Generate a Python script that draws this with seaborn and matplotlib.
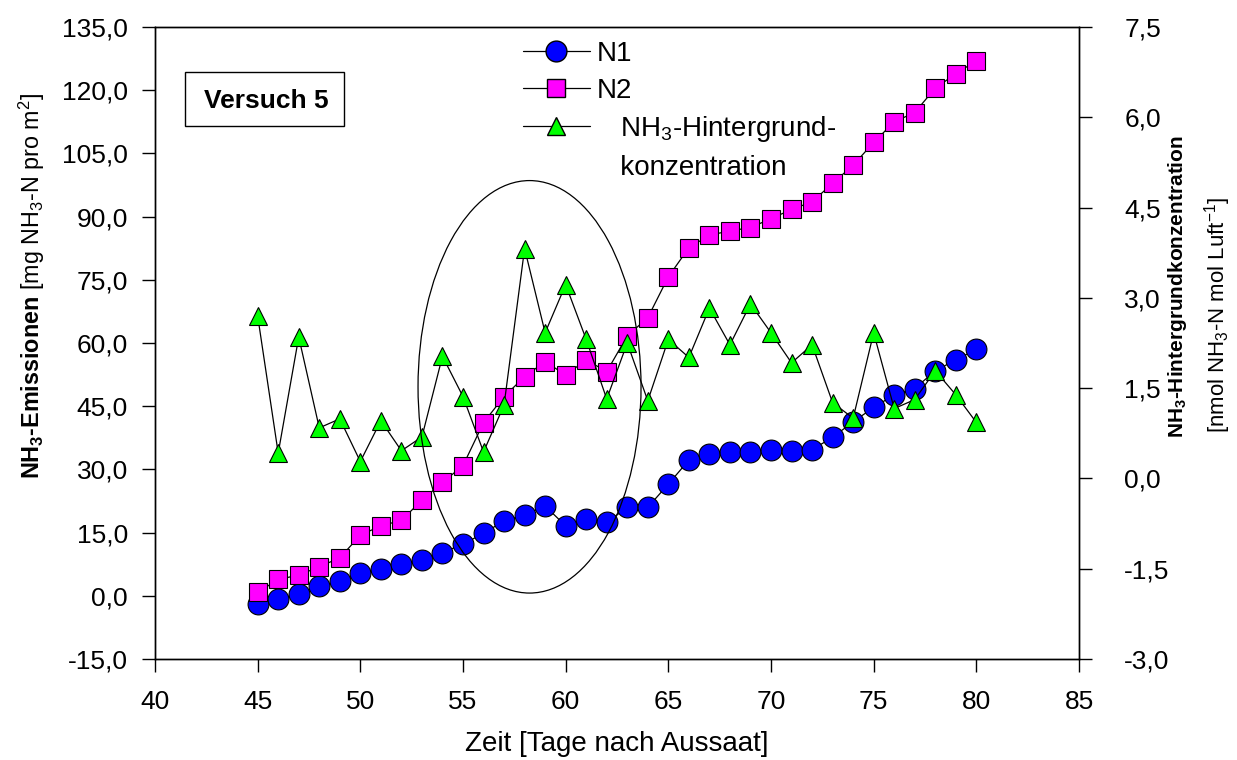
import matplotlib
matplotlib.use("Agg")
import matplotlib.pyplot as plt
from matplotlib.lines import Line2D
from matplotlib.patches import Ellipse, Rectangle
from matplotlib.ticker import FuncFormatter
import seaborn as sns
import pandas as pd

# ---------------- data ----------------
days = list(range(45, 81))
n1 = [-1.9, -0.7, 0.4, 2.3, 3.5, 5.3, 6.3, 7.5, 8.5, 10.2, 12.3, 14.8, 17.8, 19.2, 21.3,
      16.6, 18.2, 17.4, 21.0, 21.0, 26.5, 32.2, 33.7, 34.2, 34.2, 34.7, 34.4, 34.7, 37.6,
      41.3, 44.7, 47.7, 49.2, 53.4, 56.0, 58.5]
n2 = [0.8, 3.9, 4.9, 6.9, 9.0, 14.4, 16.6, 17.9, 22.7, 26.9, 30.9, 41.1, 47.3, 52.0, 55.6,
      52.4, 56.0, 53.2, 61.7, 66.0, 75.7, 82.6, 85.6, 86.6, 87.4, 89.5, 91.7, 93.5, 97.9,
      102.2, 107.6, 112.5, 114.7, 120.5, 123.9, 127.0]
background = [2.70, 0.42, 2.35, 0.84, 0.99, 0.28, 0.96, 0.46, 0.69, 2.03, 1.36, 0.44, 1.22,
              3.82, 2.42, 3.22, 2.31, 1.32, 2.25, 1.29, 2.31, 2.01, 2.83, 2.22, 2.90, 2.42,
              1.92, 2.22, 1.26, 1.00, 2.42, 1.16, 1.31, 1.79, 1.39, 0.93]

x_ticks = [40, 45, 50, 55, 60, 65, 70, 75, 80, 85]
left_ticks = [-15, 0, 15, 30, 45, 60, 75, 90, 105, 120, 135]
right_ticks = [-3.0, -1.5, 0.0, 1.5, 3.0, 4.5, 6.0, 7.5]

series_labels = ["N1", "N2", "   NH$_3$-Hintergrund-", "   konzentration"]
x_label = "Zeit [Tage nach Aussaat]"
left_label = r"$\mathbf{NH_3‐Emissionen}$ [mg NH$_3$-N pro m$^2$]"
right_label_bold = r"$\mathbf{NH_3‐Hintergrundkonzentration}$"
right_label_unit = r"[nmol NH$_3$-N mol Luft$^{-1}$]"
box_text = "Versuch 5"

df = pd.DataFrame({"day": days, "N1": n1, "N2": n2, "bg": background})

# ---------------- style ----------------
sns.set_style("ticks")
plt.rcParams["font.family"] = ["Liberation Sans", "DejaVu Sans"]
plt.rcParams["mathtext.fontset"] = "custom"
plt.rcParams["mathtext.rm"] = "Liberation Sans"
plt.rcParams["mathtext.it"] = "Liberation Sans:italic"
plt.rcParams["mathtext.bf"] = "Liberation Sans:bold"
plt.rcParams["axes.linewidth"] = 1.0
for k in ["text.color", "axes.labelcolor", "xtick.color", "ytick.color", "axes.edgecolor"]:
    plt.rcParams[k] = "black"

FS = 19

fig = plt.figure(figsize=(12.37, 7.60), dpi=100)
ax1 = fig.add_axes([155 / 1237, 1 - 659 / 760, 924 / 1237, 632 / 760])
ax2 = ax1.twinx()

line_kw = dict(color="black", linewidth=0.9, markeredgecolor="black", markeredgewidth=0.8)

sns.lineplot(data=df, x="day", y="N1", ax=ax1, marker="o", markersize=15,
             markerfacecolor="#0000FF", zorder=3, **line_kw)
sns.lineplot(data=df, x="day", y="N2", ax=ax1, marker="s", markersize=13.5,
             markerfacecolor="#FF00FF", zorder=4, **line_kw)
sns.lineplot(data=df, x="day", y="bg", ax=ax2, marker="^", markersize=13,
             markerfacecolor="#00FF00", zorder=3, **line_kw)

# axes ranges & ticks
ax1.set_xlim(40, 85)
ax1.set_ylim(-15, 135)
ax2.set_ylim(-3, 7.5)
ax1.set_xticks(x_ticks)
ax1.set_yticks(left_ticks)
ax2.set_yticks(right_ticks)
ax1.yaxis.set_major_formatter(FuncFormatter(lambda v, p: f"{v:.1f}".replace(".", ",")))
ax2.yaxis.set_major_formatter(FuncFormatter(lambda v, p: f"{v:.1f}".replace(".", ",")))

ax1.tick_params(axis="x", direction="out", length=9.5, width=1.0, labelsize=FS, pad=13)
ax1.tick_params(axis="y", direction="out", length=9.5, width=1.0, labelsize=FS, pad=10)
ax2.tick_params(axis="y", direction="out", length=9.5, width=1.0, labelsize=FS, pad=23)
for sp in list(ax1.spines.values()) + list(ax2.spines.values()):
    sp.set_visible(True)
    sp.set_linewidth(1.0)
    sp.set_color("black")

# labels
ax1.set_xlabel(x_label, fontsize=20)
ax1.xaxis.label.set_va("baseline")
ax1.xaxis.set_label_coords(0.5, -0.1456)
ax1.set_ylabel(left_label, fontsize=16.8)
ax1.yaxis.set_label_coords(-0.117, 0.590)
ax2.set_ylabel(right_label_bold, fontsize=15)
ax2.yaxis.set_label_coords(1.094, 0.590)
ax2.text(1.1504, 0.544, right_label_unit, transform=ax2.transAxes, rotation=90,
         ha="center", va="center", fontsize=16)

# highlight ellipse (in left-axis data coordinates)
ell = Ellipse((58.24, 49.6), width=10.86, height=97.9, transform=ax1.transData,
              facecolor="none", edgecolor="black", linewidth=0.9, zorder=6)
ax2.add_patch(ell)

# "Versuch 5" box
ax1.add_patch(Rectangle((185 / 1237, 1 - 126 / 760), 159 / 1237, 54 / 760,
                        transform=fig.transFigure, facecolor="white", edgecolor="black",
                        linewidth=1.0, zorder=5))
fig.text(266 / 1237, 1 - 101 / 760, box_text, fontsize=19, fontweight="bold",
         ha="center", va="center", zorder=6)

# legend
handles = [
    Line2D([], [], color="black", lw=0.9, marker="o", markersize=15,
           markerfacecolor="#0000FF", markeredgecolor="black"),
    Line2D([], [], color="black", lw=0.9, marker="s", markersize=13.5,
           markerfacecolor="#FF00FF", markeredgecolor="black"),
    Line2D([], [], color="black", lw=0.9, marker="^", markersize=13,
           markerfacecolor="#00FF00", markeredgecolor="black"),
    Line2D([], [], linestyle="none"),
]
leg = ax2.legend(handles, series_labels, loc="upper left",
                 bbox_to_anchor=(523 / 1237, 1 - 41 / 760), bbox_transform=fig.transFigure,
                 frameon=False, fontsize=20, handlelength=2.4, handletextpad=0.25,
                 labelspacing=0.38, borderpad=0, borderaxespad=0)
leg.set_zorder(10)

fig.savefig("out.png", dpi=100)
